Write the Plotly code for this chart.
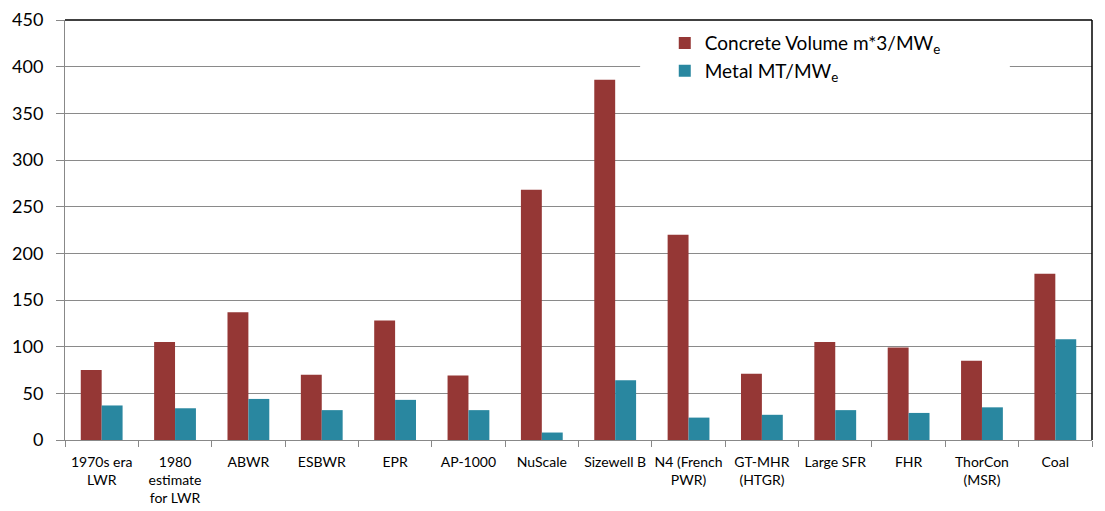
import plotly.graph_objects as go

categories = ["1970s era<br>LWR", "1980<br>estimate<br>for LWR", "ABWR", "ESBWR", "EPR", "AP-1000",
              "NuScale", "Sizewell B", "N4 (French<br>PWR)", "GT-MHR<br>(HTGR)", "Large SFR", "FHR",
              "ThorCon<br>(MSR)", "Coal"]
concrete = [75, 105, 137, 70, 128, 69, 268, 386, 220, 71, 105, 99, 85, 178]
metal = [37, 34, 44, 32, 43, 32, 8, 64, 24, 27, 32, 29, 35, 108]
y_ticks = [0, 50, 100, 150, 200, 250, 300, 350, 400, 450]

FONT = "Lato, Open Sans, sans-serif"

fig = go.Figure()
fig.add_trace(go.Bar(x=categories, y=concrete, name="Concrete Volume m*3/MW<sub>e</sub>",
                     marker=dict(color="#953735", line=dict(width=0))))
fig.add_trace(go.Bar(x=categories, y=metal, name="Metal MT/MW<sub>e</sub>",
                     marker=dict(color="#2987A0", line=dict(width=0))))

fig.update_layout(
    width=1105, height=511,
    margin=dict(l=57, r=21, t=12, b=79),
    paper_bgcolor="white", plot_bgcolor="white",
    barmode="group", bargap=0.43, bargroupgap=0,
    font=dict(family=FONT, color="black"),
    legend=dict(x=0.584, y=0.99, xanchor="left", yanchor="top",
                bgcolor="rgba(0,0,0,0)", font=dict(size=19, family=FONT),
                itemwidth=30, tracegroupgap=0),
    xaxis=dict(type="category", tickson="boundaries", ticks="outside", ticklen=6,
               tickcolor="#888888", showline=True, linecolor="#888888", linewidth=1,
               tickfont=dict(size=14, family=FONT), showgrid=False, tickangle=0,
               automargin=False, ticklabelstandoff=9),
    yaxis=dict(range=[0, 450], tickvals=y_ticks, ticks="outside", ticklen=8,
               tickcolor="#888888", showline=True, linecolor="#888888", linewidth=1,
               gridcolor="#8a8a8a", gridwidth=1, zeroline=False,
               tickfont=dict(size=18, family=FONT), automargin=False,
               ticklabelstandoff=9),
)
# white legend background patch (covers gridlines behind the legend)
fig.add_shape(type="rect", xref="paper", yref="paper", x0=0.56, x1=0.92, y0=0.81, y1=0.985,
              line=dict(width=0), fillcolor="white", layer="above")
fig.add_shape(type="line", xref="paper", yref="paper", x0=0, x1=1, y0=1, y1=1,
              line=dict(color="black", width=1.5))
fig.add_shape(type="line", xref="paper", yref="paper", x0=1, x1=1, y0=0, y1=1,
              line=dict(color="black", width=1.5))

fig.write_html("out.html")
